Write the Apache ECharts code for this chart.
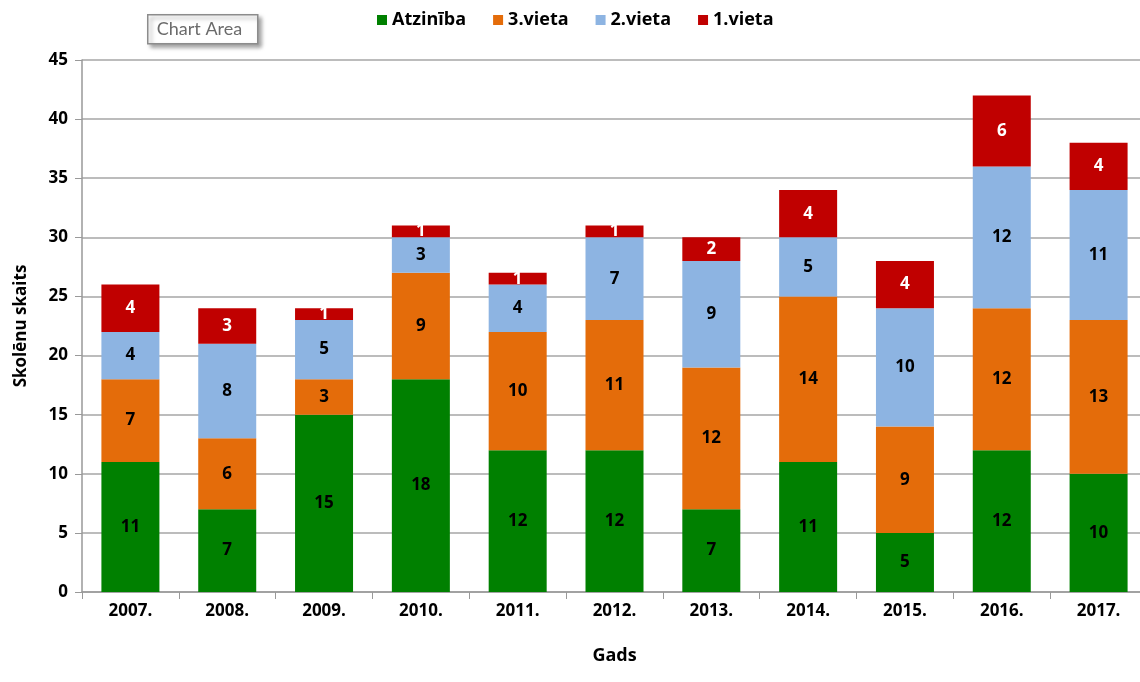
<!DOCTYPE html>
<html><head><meta charset="utf-8">
<script src="https://cdn.jsdelivr.net/npm/echarts@6/dist/echarts.min.js"></script>
<style>html,body{margin:0;padding:0;background:#fff;overflow:hidden}#c{width:1152px;height:682px}</style>
</head><body><div id="c"></div>
<script>
const categories = ['2007.','2008.','2009.','2010.','2011.','2012.','2013.','2014.','2015.','2016.','2017.'];
const atziniba = [11,7,15,18,12,12,7,11,5,12,10];
const vieta3 = [7,6,3,9,10,11,12,14,9,12,13];
const vieta2 = [4,8,5,3,4,7,9,5,10,12,11];
const vieta1 = [4,3,1,1,1,1,2,4,4,6,4];
const yTicks = [0,5,10,15,20,25,30,35,40,45];

const FONT = '"Open Sans", sans-serif';
const chart = echarts.init(document.getElementById('c'), null, {renderer:'canvas'});
function ser(name, data, color, labelColor){
  return {name, type:'bar', stack:'s', data, barWidth:58,
    itemStyle:{color},
    label:{show:true, position:'inside', color:labelColor, fontWeight:'bold', fontSize:17, fontFamily:FONT}};
}
chart.setOption({
  animation:false,
  textStyle:{fontFamily:FONT},
  legend:{top:6, left:372, itemGap:27, itemWidth:10, itemHeight:10, itemTextGap:4, icon:'rect',
    textStyle:{fontWeight:'bold', fontSize:18, color:'#000', fontFamily:FONT},
    data:['Atzinība','3.vieta','2.vieta','1.vieta']},
  grid:{left:82, top:60, width:1065, height:532, outerBoundsMode:'none', containLabel:false},
  xAxis:{type:'category', data:categories, name:'Gads', nameLocation:'middle', nameGap:55,
    nameTextStyle:{fontWeight:'bold', fontSize:18, color:'#000', fontFamily:FONT},
    axisLine:{lineStyle:{color:'#999', width:1.5}},
    axisTick:{show:true, length:7, lineStyle:{color:'#999'}},
    axisLabel:{fontWeight:'bold', fontSize:17, color:'#000', margin:11, fontFamily:FONT}},
  yAxis:{type:'value', min:0, max:45, interval:5, name:'Skolēnu skaits', nameLocation:'middle', nameGap:52,
    nameTextStyle:{fontWeight:'bold', fontSize:17, color:'#000', fontFamily:FONT},
    axisLine:{show:true, lineStyle:{color:'#999', width:1.5}},
    axisTick:{show:true, length:7, lineStyle:{color:'#999'}},
    splitLine:{lineStyle:{color:'#a6a6a6', width:1.5}},
    axisLabel:{fontWeight:'bold', fontSize:17, color:'#000', margin:14, fontFamily:FONT,
      formatter:v=>yTicks.includes(v)?String(v):''}},
  series:[
    ser('Atzinība', atziniba, '#008000', '#000'),
    ser('3.vieta', vieta3, '#E46C0A', '#000'),
    ser('2.vieta', vieta2, '#8DB4E2', '#000'),
    ser('1.vieta', vieta1, '#C00000', '#fff')
  ],
  graphic:[{type:'group', left:147, top:14, children:[
    {type:'rect', shape:{x:0,y:0,width:110,height:29}, style:{fill:'#fff', stroke:'#8c8c8c', lineWidth:1.5, shadowBlur:4, shadowOffsetX:3, shadowOffsetY:3, shadowColor:'rgba(0,0,0,0.35)'}},
    {type:'text', x:9, y:5, style:{text:'Chart Area', fill:'#6b6b6b', fontSize:18, fontFamily:'Lato, "Open Sans", sans-serif'}}
  ]}]
});
</script></body></html>
